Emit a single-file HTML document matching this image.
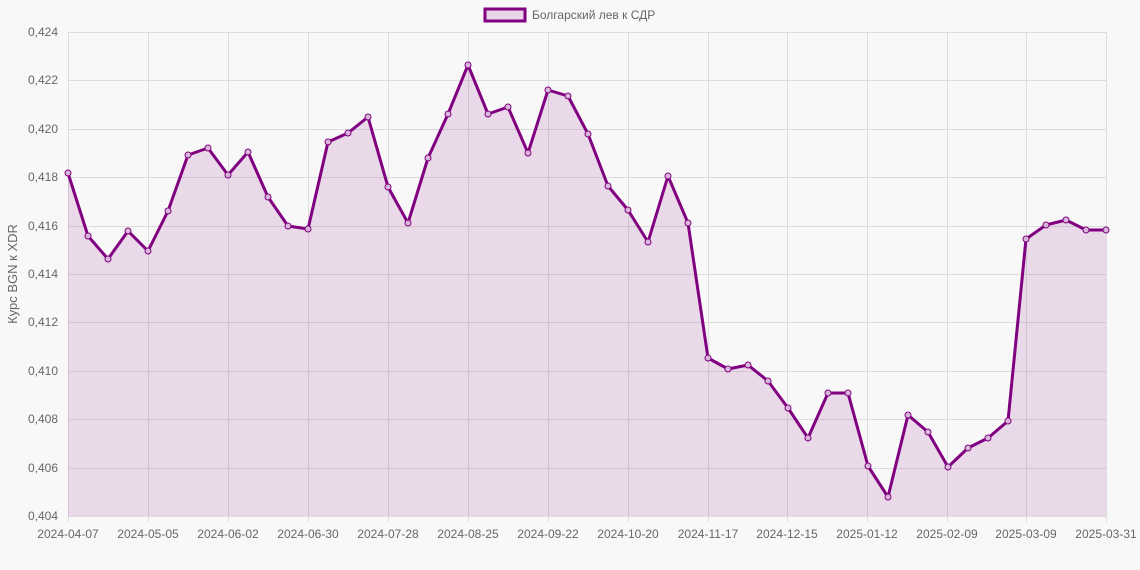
<!DOCTYPE html>
<html><head><meta charset="utf-8"><style>
body{margin:0;background:#f8f8f8;}
svg{display:block;font-family:"Liberation Sans",sans-serif;}
</style></head><body>
<svg width="1140" height="570" xmlns="http://www.w3.org/2000/svg">
<rect width="1140" height="570" fill="#f8f8f8"/>
<g stroke="#dddddd" stroke-width="1">
<line x1="68" y1="32.5" x2="1106" y2="32.5"/><line x1="68" y1="80.5" x2="1106" y2="80.5"/><line x1="68" y1="129.5" x2="1106" y2="129.5"/><line x1="68" y1="177.5" x2="1106" y2="177.5"/><line x1="68" y1="226.5" x2="1106" y2="226.5"/><line x1="68" y1="274.5" x2="1106" y2="274.5"/><line x1="68" y1="322.5" x2="1106" y2="322.5"/><line x1="68" y1="371.5" x2="1106" y2="371.5"/><line x1="68" y1="419.5" x2="1106" y2="419.5"/><line x1="68" y1="468.5" x2="1106" y2="468.5"/><line x1="68" y1="516.5" x2="1106" y2="516.5"/>
<line x1="68.5" y1="32" x2="68.5" y2="522"/><line x1="148.5" y1="32" x2="148.5" y2="522"/><line x1="228.5" y1="32" x2="228.5" y2="522"/><line x1="308.5" y1="32" x2="308.5" y2="522"/><line x1="388.5" y1="32" x2="388.5" y2="522"/><line x1="468.5" y1="32" x2="468.5" y2="522"/><line x1="548.5" y1="32" x2="548.5" y2="522"/><line x1="628.5" y1="32" x2="628.5" y2="522"/><line x1="708.5" y1="32" x2="708.5" y2="522"/><line x1="787.5" y1="32" x2="787.5" y2="522"/><line x1="867.5" y1="32" x2="867.5" y2="522"/><line x1="947.5" y1="32" x2="947.5" y2="522"/><line x1="1026.5" y1="32" x2="1026.5" y2="522"/><line x1="1106.5" y1="32" x2="1106.5" y2="522"/>
</g>
<g font-size="12" fill="#666" text-anchor="end">
<text x="58" y="36">0,424</text><text x="58" y="84">0,422</text><text x="58" y="133">0,420</text><text x="58" y="181">0,418</text><text x="58" y="230">0,416</text><text x="58" y="278">0,414</text><text x="58" y="326">0,412</text><text x="58" y="375">0,410</text><text x="58" y="423">0,408</text><text x="58" y="472">0,406</text><text x="58" y="520">0,404</text>
</g>
<g font-size="12" fill="#666" text-anchor="middle">
<text x="68" y="538">2024-04-07</text><text x="148" y="538">2024-05-05</text><text x="228" y="538">2024-06-02</text><text x="308" y="538">2024-06-30</text><text x="388" y="538">2024-07-28</text><text x="468" y="538">2024-08-25</text><text x="548" y="538">2024-09-22</text><text x="628" y="538">2024-10-20</text><text x="708" y="538">2024-11-17</text><text x="787" y="538">2024-12-15</text><text x="867" y="538">2025-01-12</text><text x="947" y="538">2025-02-09</text><text x="1026" y="538">2025-03-09</text><text x="1106" y="538">2025-03-31</text>
</g>
<text transform="translate(17,274) rotate(-90)" font-size="13" fill="#666" text-anchor="middle">Курс BGN к XDR</text>
<rect x="485" y="9" width="40" height="12" fill="#e8d5e8" stroke="#800080" stroke-width="3"/>
<text x="532" y="19" font-size="12" fill="#666">Болгарский лев к СДР</text>
<polygon fill="rgba(128,0,128,0.12)" points="68,516 68,173 88,236 108,259 128,231 148,251 168,211 188,155 208,148 228,175 248,152 268,197 288,226 308,229 328,142 348,133 368,117 388,187 408,223 428,158 448,114 468,65 488,114 508,107 528,153 548,90 568,96 588,134 608,186 628,210 648,242 668,176 688,223 708,358 728,369 748,365 768,381 788,408 808,438 828,393 848,393 868,466 888,497 908,415 928,432 948,467 968,448 988,438 1008,421 1026,239 1046,225 1066,220 1086,230 1106,230 1106,516"/>
<polyline id="ln" fill="none" stroke="#800080" stroke-width="3" stroke-linejoin="round" points="68,173 88,236 108,259 128,231 148,251 168,211 188,155 208,148 228,175 248,152 268,197 288,226 308,229 328,142 348,133 368,117 388,187 408,223 428,158 448,114 468,65 488,114 508,107 528,153 548,90 568,96 588,134 608,186 628,210 648,242 668,176 688,223 708,358 728,369 748,365 768,381 788,408 808,438 828,393 848,393 868,466 888,497 908,415 928,432 948,467 968,448 988,438 1008,421 1026,239 1046,225 1066,220 1086,230 1106,230"/>
<g fill="#d8b8d8" stroke="#800080" stroke-width="1">
<circle cx="68" cy="173" r="3"/><circle cx="88" cy="236" r="3"/><circle cx="108" cy="259" r="3"/><circle cx="128" cy="231" r="3"/><circle cx="148" cy="251" r="3"/><circle cx="168" cy="211" r="3"/><circle cx="188" cy="155" r="3"/><circle cx="208" cy="148" r="3"/><circle cx="228" cy="175" r="3"/><circle cx="248" cy="152" r="3"/><circle cx="268" cy="197" r="3"/><circle cx="288" cy="226" r="3"/><circle cx="308" cy="229" r="3"/><circle cx="328" cy="142" r="3"/><circle cx="348" cy="133" r="3"/><circle cx="368" cy="117" r="3"/><circle cx="388" cy="187" r="3"/><circle cx="408" cy="223" r="3"/><circle cx="428" cy="158" r="3"/><circle cx="448" cy="114" r="3"/><circle cx="468" cy="65" r="3"/><circle cx="488" cy="114" r="3"/><circle cx="508" cy="107" r="3"/><circle cx="528" cy="153" r="3"/><circle cx="548" cy="90" r="3"/><circle cx="568" cy="96" r="3"/><circle cx="588" cy="134" r="3"/><circle cx="608" cy="186" r="3"/><circle cx="628" cy="210" r="3"/><circle cx="648" cy="242" r="3"/><circle cx="668" cy="176" r="3"/><circle cx="688" cy="223" r="3"/><circle cx="708" cy="358" r="3"/><circle cx="728" cy="369" r="3"/><circle cx="748" cy="365" r="3"/><circle cx="768" cy="381" r="3"/><circle cx="788" cy="408" r="3"/><circle cx="808" cy="438" r="3"/><circle cx="828" cy="393" r="3"/><circle cx="848" cy="393" r="3"/><circle cx="868" cy="466" r="3"/><circle cx="888" cy="497" r="3"/><circle cx="908" cy="415" r="3"/><circle cx="928" cy="432" r="3"/><circle cx="948" cy="467" r="3"/><circle cx="968" cy="448" r="3"/><circle cx="988" cy="438" r="3"/><circle cx="1008" cy="421" r="3"/><circle cx="1026" cy="239" r="3"/><circle cx="1046" cy="225" r="3"/><circle cx="1066" cy="220" r="3"/><circle cx="1086" cy="230" r="3"/><circle cx="1106" cy="230" r="3"/>
</g>
</svg>
</body></html>
